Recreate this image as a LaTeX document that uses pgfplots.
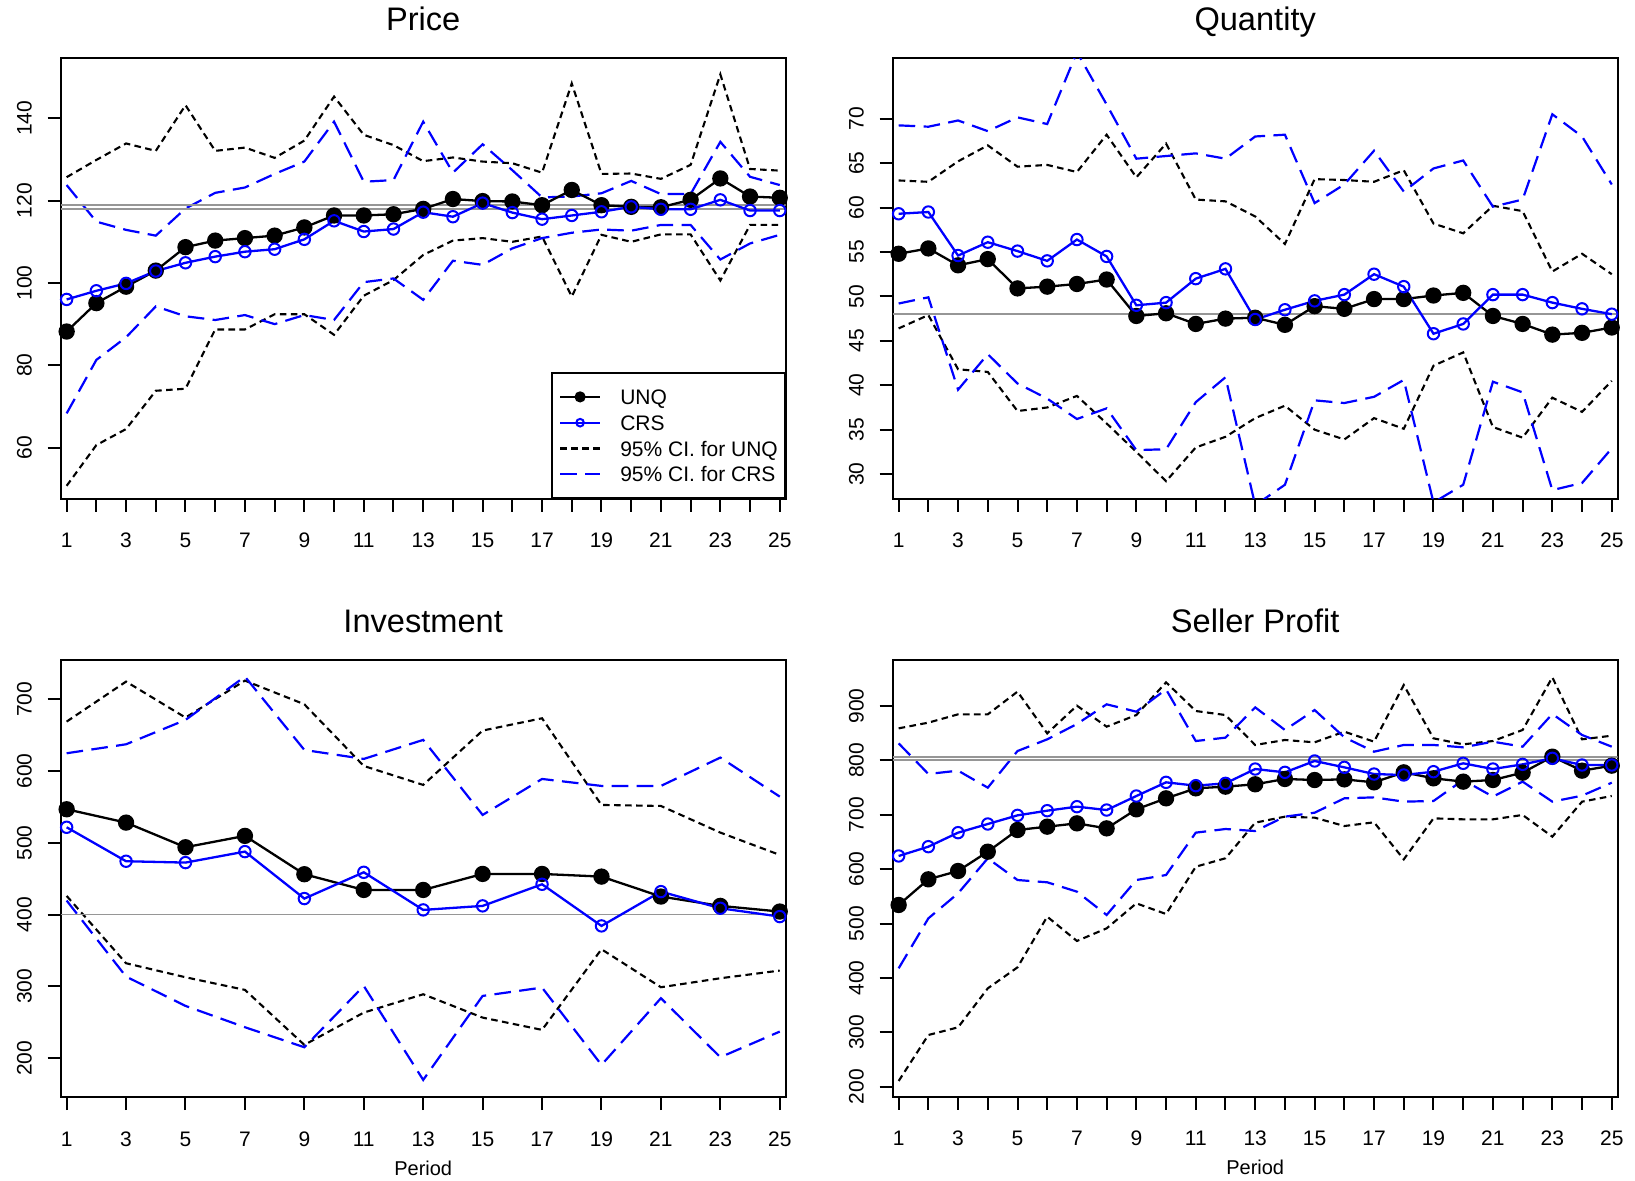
\documentclass[border=0pt]{standalone}
\usepackage{fontspec}
\setmainfont{Liberation Sans}
\usepackage{pgfplots}
\usepackage{pgfplotstable}
\pgfplotsset{compat=1.18}

\definecolor{rblue}{RGB}{0,0,255}
\definecolor{rgray}{RGB}{150,150,150}

% columns: p unq crs uu ul cu cl  (uu/ul: 95% CI for UNQ, cu/cl: 95% CI for CRS)
\pgfplotstableread{
p unq crs uu ul cu cl
1 88.2 96.0 125.7 50.7 123.8 68.3
2 95.1 98.1 129.9 60.6 114.9 81.3
3 99.1 99.9 133.9 64.5 112.9 86.8
4 103.0 102.9 132.1 73.8 111.5 94.3
5 108.7 104.9 143.2 74.3 118.1 91.9
6 110.3 106.4 132.1 88.7 121.9 91.0
7 110.9 107.6 132.9 88.7 123.2 92.2
8 111.5 108.2 130.4 92.4 126.5 90.0
9 113.5 110.6 134.6 92.4 129.5 92.2
10 116.4 115.1 145.3 87.4 139.2 91.0
11 116.4 112.5 136.0 96.9 124.6 100.2
12 116.7 113.1 133.5 100.7 125.0 101.1
13 118.0 117.2 129.6 106.8 139.2 95.9
14 120.4 116.1 130.5 110.3 126.8 105.4
15 119.9 119.4 129.5 110.9 133.7 104.4
16 119.8 117.1 129.1 110.0 127.4 108.4
17 118.9 115.5 126.8 111.3 120.8 110.9
18 122.6 116.4 148.5 96.7 121.0 112.2
19 118.9 117.3 126.5 111.7 121.8 113.0
20 118.5 118.5 126.6 110.0 124.8 112.7
21 118.4 117.9 125.3 111.8 121.6 114.1
22 120.2 117.9 128.7 111.8 121.6 114.1
23 125.4 120.2 150.7 100.6 134.3 105.7
24 121.0 117.6 127.7 114.1 125.8 109.6
25 120.7 117.6 127.3 114.1 123.8 111.7
}\pricetab

\pgfplotstableread{
p unq crs uu ul cu cl
1 54.8 59.3 63.05 46.4 69.25 49.2
2 55.4 59.5 62.9 47.9 69.1 49.9
3 53.5 54.6 65.2 41.8 69.8 39.5
4 54.2 56.1 67.0 41.5 68.6 43.5
5 50.9 55.1 64.6 37.1 70.15 40.2
6 51.1 54.0 64.8 37.5 69.4 38.5
7 51.4 56.4 64.0 38.8 77.5 36.2
8 51.9 54.5 68.2 35.7 71.6 37.4
9 47.8 49.0 63.4 32.5 65.5 32.7
10 48.1 49.3 67.2 29.2 65.8 32.8
11 46.9 52.0 60.9 33.0 66.1 38.1
12 47.5 53.1 60.7 34.2 65.5 40.9
13 47.6 47.4 59.0 36.3 68.0 26.5
14 46.8 48.5 55.9 37.7 68.2 28.8
15 48.9 49.5 63.2 35.0 60.5 38.3
16 48.6 50.2 63.1 33.9 62.6 38.0
17 49.7 52.5 62.9 36.3 66.4 38.7
18 49.7 51.1 64.2 35.1 61.8 40.6
19 50.1 45.8 58.2 42.2 64.4 26.8
20 50.4 46.9 57.1 43.7 65.3 28.8
21 47.8 50.2 60.2 35.3 60.1 40.4
22 46.9 50.2 59.6 34.1 60.9 39.2
23 45.7 49.3 52.8 38.6 70.5 28.2
24 45.9 48.6 54.8 37.0 68.0 29.0
25 46.5 48.0 52.5 40.5 62.6 32.9
}\quanttab

\pgfplotstableread{
p unq crs uu ul cu cl
1 546.8 521.7 668.9 426.1 624.8 419.6
3 528.2 474.4 724.6 332.3 637.3 313.7
5 493.9 472.5 674.5 312.8 671.2 272.9
7 509.7 487.8 726.0 295.2 731.6 243.2
9 456.3 422.4 693.0 218.6 629.4 215.3
11 434.4 459.0 607.1 263.6 616.9 300.7
13 434.4 406.6 580.7 289.1 643.4 169.8
15 456.7 412.2 656.4 256.6 538.9 286.8
17 456.7 442.3 673.5 239.5 589.0 298.4
19 453.0 384.3 552.8 351.8 579.3 190.7
21 425.2 432.1 551.4 298.9 579.3 283.6
23 412.2 408.9 514.3 311.4 618.8 201.4
25 404.3 397.3 483.2 322.1 564.4 237.1
}\invtab

\pgfplotstableread{
p unq crs uu ul cu cl
1 534.1 624.2 858.9 210.4 831.3 417.6
2 581.3 641.3 869.4 295.0 775.0 509.5
3 596.6 667.1 884.7 309.1 781.1 555.5
4 632.1 683.0 884.7 380.8 749.8 619.9
5 672.0 698.9 926.4 419.4 817.2 580.0
6 678.1 707.5 849.7 512.6 838.7 575.8
7 684.2 714.9 900.6 467.9 866.9 558.6
8 675.0 708.7 862.0 491.1 903.1 515.7
9 710.0 734.5 883.4 537.1 889.6 580.0
10 730.2 759.6 943.5 517.5 930.6 589.2
11 748.6 753.5 890.8 604.5 835.6 667.1
12 751.7 757.8 883.4 620.0 841.8 673.8
13 756.0 784.1 828.3 685.5 897.5 670.1
14 765.8 778.0 837.5 696.5 855.9 696.5
15 763.9 798.9 833.2 694.7 892.6 703.8
16 765.1 787.2 852.8 679.3 842.4 730.2
17 759.6 774.9 834.4 686.1 816.0 732.0
18 778.0 773.1 938.6 618.0 828.3 724.1
19 767.0 779.2 840.5 693.4 828.3 725.3
20 760.9 794.6 829.5 691.6 824.0 763.9
21 763.9 784.1 835.6 691.6 834.4 733.3
22 777.4 792.7 855.9 699.6 825.2 760.9
23 806.8 803.8 952.7 659.7 885.3 724.1
24 781.1 791.5 838.7 724.1 846.7 735.1
25 790.3 791.5 845.4 734.5 825.2 759.0
}\sellertab

\pgfplotsset{
  every axis title/.style={at={(0.5,1)}, anchor=base, yshift=13.8pt, font=\fontsize{16.3}{19}\selectfont},
  every axis x label/.style={at={(0.5,0)}, anchor=base, yshift=-39pt, font=\fontsize{10}{12}\selectfont},
  rpanel/.style={
    scale only axis, width=362.5pt,
    xmin=0.8, xmax=25.2,
    axis line style={line width=1pt},
    tick align=outside, tick pos=left,
    major tick length=6.5pt,
    every tick/.style={black, line width=1pt},
    ticklabel style={font=\fontsize{10.5}{12}\selectfont},
    /pgf/number format/assume math mode=true,
    xticklabel style={anchor=base, yshift=-18pt},
    yticklabel style={xshift=-8pt, rotate=90, anchor=base},
    clip=true,
  },
  unq/.style={black, line width=1.15pt, mark=*, mark size=3.5pt, mark options={solid}},
  crs/.style={rblue, line width=1.15pt, mark=o, mark size=2.85pt, mark options={solid, line width=1pt}},
  ciu/.style={black, line width=1.05pt, dash pattern=on 3.3pt off 2.2pt},
  cic/.style={rblue, line width=1.1pt, dash pattern=on 8.3pt off 4.2pt},
  refl/.style={rgray, line width=0.85pt},
  alltick/.style={xtick={1,...,25}, xticklabels={1,,3,,5,,7,,9,,11,,13,,15,,17,,19,,21,,23,,25}},
}

\begin{document}
\begin{tikzpicture}
\useasboundingbox (0,0) rectangle (817.5pt,-590.5pt);

% ---------- Price ----------
\begin{axis}[rpanel, alltick, at={(30.35pt,-29.15pt)}, anchor=north west,
  height=220.35pt, ymin=47.5, ymax=154.6, ytick={60,80,...,140},
  title={Price},
  legend image code/.code={\draw[mark repeat=2,mark phase=2,#1] plot coordinates {(0pt,0pt) (10pt,0pt) (20pt,0pt)};},
  legend cell align=left,
  legend style={at={(1,0)}, anchor=south east, draw=black, line width=0.9pt, fill=white,
    font=\fontsize{10.5}{12}\selectfont, inner xsep=3.5pt, inner ysep=8.1pt,
    row sep=5.3pt, column sep=9.5pt,
    nodes={inner sep=0pt, text height=7.6pt, text depth=0pt}},
]
\addlegendimage{black, line width=1.15pt, mark=*, mark size=2.2pt}
\addlegendentry{UNQ}
\addlegendimage{rblue, line width=1.15pt, mark=o, mark size=1.9pt, mark options={solid, line width=1pt}}
\addlegendentry{CRS}
\addlegendimage{ciu}
\addlegendentry{95\% CI. for UNQ}
\addlegendimage{cic}
\addlegendentry{95\% CI. for CRS}
\addplot[ciu, forget plot] table[x=p, y=uu] {\pricetab};
\addplot[ciu, forget plot] table[x=p, y=ul] {\pricetab};
\addplot[cic, forget plot] table[x=p, y=cu] {\pricetab};
\addplot[cic, forget plot] table[x=p, y=cl] {\pricetab};
\addplot[refl, forget plot] coordinates {(0.8,118.0) (25.2,118.0)};
\addplot[refl, forget plot] coordinates {(0.8,118.9) (25.2,118.9)};
\addplot[unq, forget plot] table[x=p, y=unq] {\pricetab};
\addplot[crs, forget plot] table[x=p, y=crs] {\pricetab};
\end{axis}

% ---------- Quantity ----------
\begin{axis}[rpanel, alltick, at={(446.35pt,-29.15pt)}, anchor=north west,
  height=220.35pt, ymin=27.2, ymax=76.8, ytick={30,35,...,70},
  title={Quantity}]
\addplot[ciu] table[x=p, y=uu] {\quanttab};
\addplot[ciu] table[x=p, y=ul] {\quanttab};
\addplot[cic] table[x=p, y=cu] {\quanttab};
\addplot[cic] table[x=p, y=cl] {\quanttab};
\addplot[refl] coordinates {(0.8,48.0) (25.2,48.0)};
\addplot[unq] table[x=p, y=unq] {\quanttab};
\addplot[crs] table[x=p, y=crs] {\quanttab};
\end{axis}

% ---------- Investment ----------
\begin{axis}[rpanel, at={(30.35pt,-330pt)}, anchor=north west,
  height=218.5pt, ymin=146, ymax=754.7, ytick={200,300,...,700},
  xtick={1,3,...,25},
  title={Investment}, xlabel={Period}]
\addplot[ciu] table[x=p, y=uu] {\invtab};
\addplot[ciu] table[x=p, y=ul] {\invtab};
\addplot[cic] table[x=p, y=cu] {\invtab};
\addplot[cic] table[x=p, y=cl] {\invtab};
\addplot[refl] coordinates {(0.8,400) (25.2,400)};
\addplot[unq] table[x=p, y=unq] {\invtab};
\addplot[crs] table[x=p, y=crs] {\invtab};
\end{axis}

% ---------- Seller Profit ----------
\begin{axis}[rpanel, alltick, at={(446.35pt,-330pt)}, anchor=north west,
  height=218.5pt, ymin=181, ymax=984.6, ytick={200,300,...,900},
  title={Seller Profit}, xlabel={Period}]
\addplot[ciu] table[x=p, y=uu] {\sellertab};
\addplot[ciu] table[x=p, y=ul] {\sellertab};
\addplot[cic] table[x=p, y=cu] {\sellertab};
\addplot[cic] table[x=p, y=cl] {\sellertab};
\addplot[refl] coordinates {(0.8,801) (25.2,801)};
\addplot[refl] coordinates {(0.8,806) (25.2,806)};
\addplot[unq] table[x=p, y=unq] {\sellertab};
\addplot[crs] table[x=p, y=crs] {\sellertab};
\end{axis}
\end{tikzpicture}
\end{document}
